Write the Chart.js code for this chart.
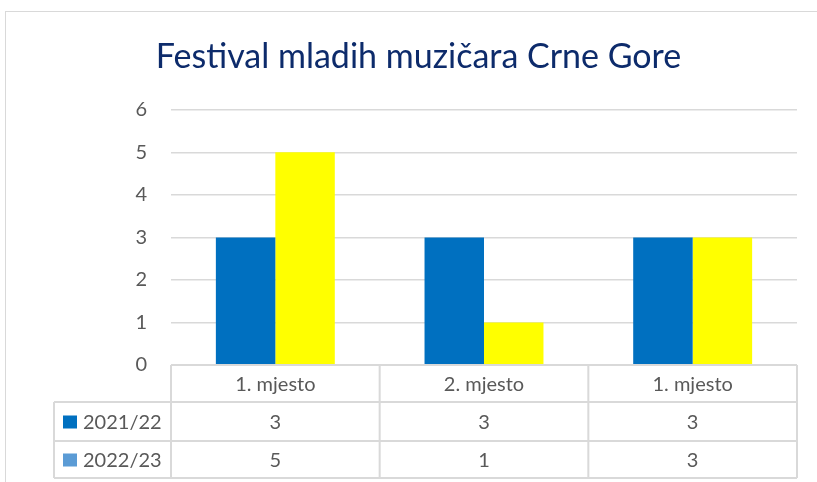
<!DOCTYPE html>
<html>
<head>
<meta charset="utf-8">
<script src="https://cdn.jsdelivr.net/npm/chart.js@4"></script>
<style>
  html, body { margin: 0; padding: 0; background: #fff; }
  #wrap { position: relative; width: 817px; height: 482px; overflow: hidden; }
  #frame { position: absolute; left: 5px; top: 11px; width: 840px; height: 520px; border: 1px solid #d9d9d9; }
  #myChart { position: absolute; left: 0; top: 0; }
</style>
</head>
<body>
<div id="wrap">
  <div id="frame"></div>
  <canvas id="myChart" width="817" height="482"></canvas>
</div>
<script>
const categories = ['1. mjesto', '2. mjesto', '1. mjesto'];
const series2021 = [3, 3, 3];
const series2022 = [5, 1, 3];
const seriesNames = ['2021/22', '2022/23'];
const yTicks = [0, 1, 2, 3, 4, 5, 6];

const textColor = '#595959';
const lineColor = '#d9d9d9';
const fontFamily = 'Lato, "Open Sans", sans-serif';

// data table under the plot, drawn from the chart's own x scale
const dataTable = {
    id: 'dataTable',
    afterDraw(chart) {
        const c = chart.ctx;
        const x = chart.scales.x;
        const area = chart.chartArea;
        const rowH = [37, 39, 37];
        const y0 = area.bottom;
        const y1 = y0 + rowH[0];
        const y2 = y1 + rowH[1];
        const y3 = y2 + rowH[2];
        const labelLeft = 54;
        const n = categories.length;
        const half = (x.getPixelForValue(1) - x.getPixelForValue(0)) / 2;
        const edges = [];
        for (let i = 0; i < n; i++) edges.push(x.getPixelForValue(i) - half);
        edges.push(x.getPixelForValue(n - 1) + half);

        c.save();
        c.strokeStyle = lineColor;
        c.lineWidth = 2;
        c.beginPath();
        // horizontal lines
        c.moveTo(edges[0], y0); c.lineTo(edges[n], y0);
        c.moveTo(labelLeft, y1); c.lineTo(edges[n], y1);
        c.moveTo(labelLeft, y2); c.lineTo(edges[n], y2);
        c.moveTo(labelLeft, y3); c.lineTo(edges[n], y3);
        // vertical lines
        c.moveTo(labelLeft, y1); c.lineTo(labelLeft, y3);
        edges.forEach(e => { c.moveTo(e, y0); c.lineTo(e, y3); });
        c.stroke();

        c.fillStyle = textColor;
        c.font = '20px ' + fontFamily;
        c.textAlign = 'center';
        c.textBaseline = 'middle';
        categories.forEach((cat, i) => {
            c.fillText(cat, x.getPixelForValue(i), (y0 + y1) / 2 + 1);
        });
        const rows = [[y1, y2], [y2, y3]];
        chart.data.datasets.forEach((ds, r) => {
            const cy = (rows[r][0] + rows[r][1]) / 2 + 1;
            ds.data.forEach((v, i) => {
                c.fillStyle = textColor;
                c.fillText(String(v), x.getPixelForValue(i), cy);
            });
            c.fillStyle = ds.keyColor;
            c.fillRect(63, cy - 7, 14, 13);
            c.fillStyle = textColor;
            c.textAlign = 'left';
            c.fillText(ds.label, 83, cy);
            c.textAlign = 'center';
        });
        c.restore();
    }
};

const ctx = document.getElementById('myChart').getContext('2d');
const chart = new Chart(ctx, {
    type: 'bar',
    data: {
        labels: categories,
        datasets: [{
            label: seriesNames[0],
            data: series2021,
            backgroundColor: '#0070c0',
            keyColor: '#0070c0'
        }, {
            label: seriesNames[1],
            data: series2022,
            backgroundColor: '#ffff00',
            keyColor: '#5b9bd5'
        }]
    },
    options: {
        responsive: false,
        animation: false,
        layout: {
            padding: { left: 40, right: 20, top: 0, bottom: 117 }
        },
        datasets: {
            bar: { categoryPercentage: 0.57, barPercentage: 1 }
        },
        scales: {
            x: {
                display: false
            },
            y: {
                min: 0,
                max: 6,
                afterBuildTicks: s => { s.ticks = yTicks.map(v => ({ value: v })); },
                afterFit: s => { s.width = 131; },
                border: { display: false },
                grid: { color: lineColor, lineWidth: 1.5, drawTicks: false },
                ticks: {
                    color: textColor,
                    padding: 24,
                    font: { family: fontFamily, size: 20 }
                }
            }
        },
        plugins: {
            legend: { display: false },
            tooltip: { enabled: false },
            title: {
                display: true,
                text: 'Festival mladih muzičara Crne Gore',
                color: '#0d2b6b',
                font: { family: fontFamily, size: 34, weight: 'normal' },
                padding: { top: 37, bottom: 32 }
            }
        }
    },
    plugins: [dataTable]
});
</script>
</body>
</html>
